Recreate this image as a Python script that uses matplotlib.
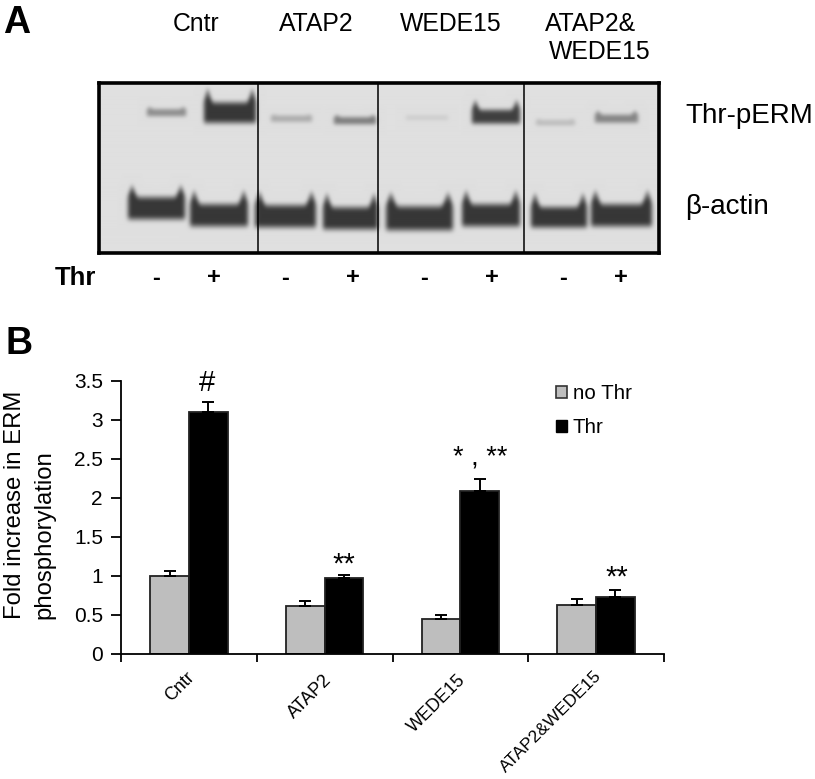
import numpy as np
import matplotlib
matplotlib.use("Agg")
import matplotlib.pyplot as plt
from matplotlib.patches import Patch

plt.rcParams['font.family'] = ['Liberation Sans', 'DejaVu Sans']

W, H = 815, 779

# panel B values
groups = ["Cntr", "ATAP2", "WEDE15", "ATAP2&WEDE15"]
no_thr = [1.0, 0.61, 0.44, 0.62]
no_thr_err = [0.06, 0.07, 0.05, 0.08]
thr = [3.1, 0.97, 2.09, 0.73]
thr_err = [0.13, 0.035, 0.15, 0.09]
y_ticks = [0, 0.5, 1, 1.5, 2, 2.5, 3, 3.5]
y_labels = ["0", "0.5", "1", "1.5", "2", "2.5", "3", "3.5"]

perm_bands = [
    (146, 186, 113, 5.0, 2, 0.50),
    (203, 256, 113, 13, 14, 1.0),
    (270, 312, 119, 4.5, 1, 0.32),
    (333, 376, 121, 5.0, 2, 0.60),
    (405, 448, 118, 3.5, 0, 0.12),
    (471, 520, 117, 9, 10, 0.95),
    (535, 575, 123, 4.0, 1, 0.22),
    (594, 638, 119, 5.5, 4, 0.55),
]
actin_bands = [
    (127, 185, 208, 14, 12, 1.0),
    (189, 248, 215, 14, 14, 1.0),
    (254, 316, 216, 14, 14, 1.0),
    (322, 378, 218, 14, 14, 1.0),
    (385, 453, 218, 15, 14, 1.0),
    (461, 520, 215, 14, 14, 1.0),
    (530, 587, 217, 13, 14, 1.0),
    (590, 652, 215, 14, 14, 1.0),
]
lane_lines = [258, 378, 524]
lane_signs = ["-", "+", "-", "+", "-", "+", "-", "+"]
sign_x = [156, 214, 285, 353, 424, 492, 563, 621]


def fx(x):
    return x / W


def fy(y):
    return 1 - y / H


def blur(img, sigma):
    t = np.arange(-8, 9)
    k = np.exp(-t ** 2 / (2 * sigma ** 2))
    k = k / k.sum()
    pad = np.pad(img, 8, mode="edge")
    pad = np.apply_along_axis(lambda r: np.convolve(r, k, mode="same"), 0, pad)
    pad = np.apply_along_axis(lambda r: np.convolve(r, k, mode="same"), 1, pad)
    return pad[8:-8, 8:-8]


def blot_image(x0, x1, y0, y1):
    xs, ys = np.meshgrid(np.arange(x0, x1), np.arange(y0, y1))
    dark = np.zeros(xs.shape)
    for left, right, cy, hh, horn, d in perm_bands + actin_bands:
        u = np.abs(xs - (left + right) / 2) / ((right - left) / 2)
        # flat band with a short spike going up near each end
        top = cy - hh - horn * np.exp(-((u - 0.84) / 0.11) ** 2)
        bottom = cy + hh
        soft = 1.5 + hh * 0.35
        across = np.clip((ys - top) / soft, 0, 1) * np.clip((bottom - ys) / soft, 0, 1)
        along = np.clip((1.05 - u) / 0.14, 0, 1)
        # spike fades out as it climbs
        fade = np.clip(1 - 0.8 * (cy - hh - ys) / (horn + 1), 0.2, 1)
        dark = np.maximum(dark, d * across * along * fade)
    return 0.875 - 0.66 * blur(dark, 1.8)


fig = plt.figure(figsize=(W / 100, H / 100), dpi=100)

# blot
ax_blot = fig.add_axes([fx(99), fy(253), fx(659 - 99), (253 - 83) / H])
ax_blot.imshow(blot_image(99, 659, 83, 253), cmap="gray", vmin=0, vmax=1,
               extent=(99, 659, 253, 83), aspect="auto", interpolation="bicubic")
for x in lane_lines:
    ax_blot.axvline(x, color="black", lw=1.1)
ax_blot.set_xticks([])
ax_blot.set_yticks([])
for s in ax_blot.spines.values():
    s.set_linewidth(2.6)

fig.text(fx(3), fy(23), "A", fontsize=27, fontweight="bold", va="center", ha="left")
fig.text(fx(5), fy(344), "B", fontsize=27, fontweight="bold", va="center", ha="left")

for label, x, y in [("Cntr", 196, 24), ("ATAP2", 316, 24), ("WEDE15", 451, 24),
                    ("ATAP2&", 591, 24), ("WEDE15", 600, 52)]:
    fig.text(fx(x), fy(y), label, fontsize=17.8, ha="center", va="center")
fig.text(fx(685), fy(116), "Thr-pERM", fontsize=20, ha="left", va="center")
fig.text(fx(685), fy(207), "β-actin", fontsize=20, ha="left", va="center")
fig.text(fx(55), fy(278), "Thr", fontsize=18.5, fontweight="bold", ha="left", va="center")
for x, s in zip(sign_x, lane_signs):
    fig.text(fx(x), fy(278), s, fontsize=17, fontweight="bold", ha="center", va="center")

# bar chart
ax = fig.add_axes([fx(121), fy(653.5), fx(664 - 121), (653.5 - 381) / H])
pos = np.arange(len(groups))
bw = 0.285
err_style = dict(ecolor="black", elinewidth=1.4, capsize=4.5, capthick=1.4)
ax.bar(pos + 0.5 - bw / 2, no_thr, bw, color="#bebebe", edgecolor="#222222", linewidth=1.3,
       yerr=[np.zeros(4), no_thr_err], error_kw=err_style)
ax.bar(pos + 0.5 + bw / 2, thr, bw, color="black", edgecolor="#222222", linewidth=1.3,
       yerr=[np.zeros(4), thr_err], error_kw=err_style)
ax.set_xlim(0, 4)
ax.set_ylim(0, 3.5)
ax.set_yticks(y_ticks, y_labels, fontsize=15)
ax.set_xticks(range(5), [""] * 5)
ax.tick_params(axis="y", length=7, width=1.3, pad=6)
ax.tick_params(axis="x", length=6, width=1.3)
ax.spines["top"].set_visible(False)
ax.spines["right"].set_visible(False)
ax.spines["left"].set_linewidth(1.3)
ax.spines["bottom"].set_linewidth(1.3)

for label, x, y, size in zip(groups, [186, 323, 457, 594], [669, 672, 671, 668], [13, 13, 13, 12.6]):
    fig.text(fx(x), fy(y), label, fontsize=size, rotation=45, rotation_mode="anchor",
             ha="right", va="top")

fig.text(fx(15), fy(619), "Fold increase in ERM", fontsize=17.2, rotation=90, ha="center", va="bottom")
fig.text(fx(44), fy(619), "phosphorylation", fontsize=17.2, rotation=90, ha="center", va="bottom")

for label, x, y, size in [("#", 207, 383, 21), ("**", 344, 565, 21),
                          ("* , **", 480, 457, 19.5), ("**", 617, 578, 21)]:
    fig.text(fx(x), fy(y), label, fontsize=size, ha="center", va="center")

handles = [Patch(facecolor="#bebebe", edgecolor="#333333", lw=1.2, label="no Thr"),
           Patch(facecolor="black", edgecolor="black", label="Thr")]
ax.legend(handles=handles, frameon=False, fontsize=14.8, loc="upper left",
          bbox_to_anchor=((553 - 121) / (664 - 121), 1.0), borderaxespad=0, borderpad=0.15,
          handlelength=0.55, handleheight=0.55, handletextpad=0.25, labelspacing=0.75)

fig.savefig("out.png", dpi=100)
